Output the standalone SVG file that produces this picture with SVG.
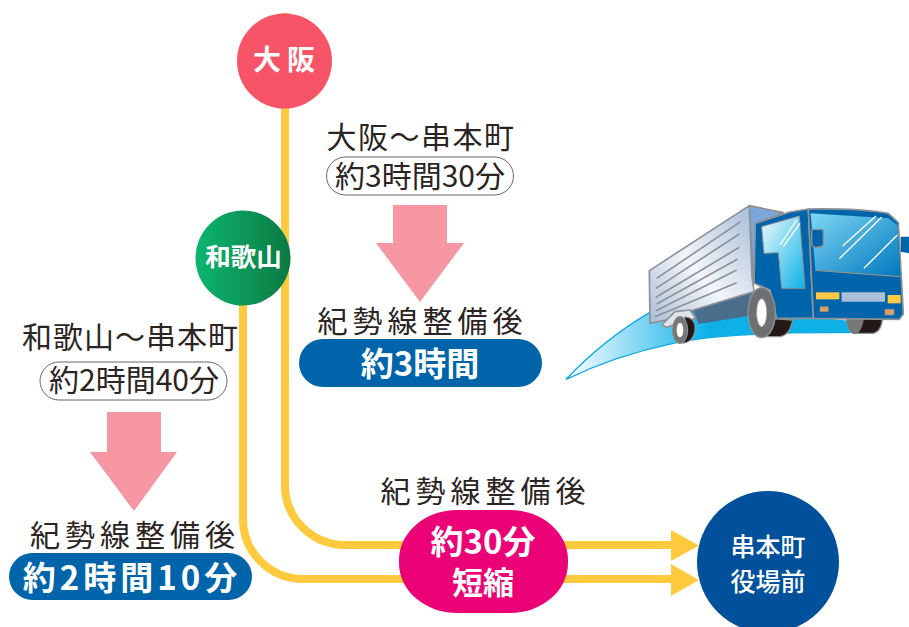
<svg xmlns="http://www.w3.org/2000/svg" width="909" height="627" viewBox="0 0 909 627">
<style>
text{font-family:"Noto Sans CJK JP","Noto Sans",sans-serif;text-anchor:middle}
.d{fill:#2b2422;font-size:30px}
.w{fill:#fff;font-weight:700}
.m{fill:#fff;font-weight:500;font-size:25px}
.r{fill:none;stroke:#ffca3d;stroke-width:8}
.a{fill:#f797a3}
.c{fill:#fff;stroke:#666;stroke-width:1}
.y{fill:#ffca3d}
.t{fill:none;stroke:#8d9296;stroke-width:5}
.g{stroke:#8d9296;stroke-width:5;stroke-linejoin:round}
.s{stroke:#fff;stroke-width:4;fill:none}
</style>
<defs>
<linearGradient id="gw" x1="0" x2="1" y1="0" y2="0"><stop offset="0" stop-color="#0cb56f"/><stop offset="1" stop-color="#0b7a42"/></linearGradient>
<linearGradient id="gs" x1="0" x2="1" y1="0" y2="0"><stop offset="0" stop-color="#fff"/><stop offset=".5" stop-color="#0db1e8"/><stop offset="1" stop-color="#0db1e8"/></linearGradient>
<linearGradient id="gb" x1="0" x2="1" y1="1" y2="0"><stop offset="0" stop-color="#a9bdd6"/><stop offset=".45" stop-color="#f2f5f9"/><stop offset="1" stop-color="#a6bcd8"/></linearGradient>
<linearGradient id="gf" x1="0" x2="1" y1="0" y2="1"><stop offset="0" stop-color="#7fd6f5"/><stop offset="1" stop-color="#0079bd"/></linearGradient>
<linearGradient id="gd" x1="0" x2="1" y1="0" y2="1"><stop offset="0" stop-color="#eef9fd"/><stop offset="1" stop-color="#0cb2e6"/></linearGradient>
</defs>
<g id="connectors">
<path class="r" d="M285 13V485A60 60 0 0 0 345 545H672"/>
<path class="r" d="M243 290V519A60 60 0 0 0 303 579H672"/>
<path class="y" d="M671 530L699 545.500L671 561Z"/>
<path class="y" d="M671 564L699 580L671 596Z"/>
</g>
<g id="osaka"><circle cx="284.500" cy="61" r="47.500" fill="#f85468"/><text class="w" x="287" y="70" font-size="28" letter-spacing="6">大阪</text></g>
<g id="wakayama"><circle cx="243" cy="258" r="47.500" fill="url(#gw)"/><text class="w" x="243.500" y="266" font-size="25.500">和歌山</text></g>
<g id="osaka-time">
<text class="d" x="421" y="148" letter-spacing="1.500">大阪～串本町</text>
<rect class="c" x="326.500" y="157" width="187" height="38" rx="19"/>
<text class="d" x="420" y="187">約3時間30分</text>
<path class="a" d="M393 205H447V243H464L420 302L376 243H393Z"/>
<text class="d" x="422.500" y="332" letter-spacing="5">紀勢線整備後</text>
<rect x="299" y="339" width="243" height="48" rx="24" fill="#0064ab"/>
<text class="w" x="420" y="376" font-size="33">約3時間</text>
</g>
<g id="wakayama-time">
<text class="d" x="130.500" y="348" letter-spacing="1">和歌山～串本町</text>
<rect class="c" x="40" y="362" width="187" height="38" rx="19"/>
<text class="d" x="134" y="391">約2時間40分</text>
<path class="a" d="M107 412H161V452H177L134 511L90 452H107Z"/>
<text class="d" x="135" y="546" letter-spacing="5">紀勢線整備後</text>
<rect x="9" y="553" width="243" height="47" rx="23.500" fill="#0064ab"/>
<text class="w" x="132" y="590" font-size="33" letter-spacing="4">約2時間10分</text>
</g>
<g id="shortened">
<text class="d" x="485.500" y="502" letter-spacing="5">紀勢線整備後</text>
<rect x="399" y="510" width="169" height="103" rx="58" ry="50" fill="#ec0277"/>
<text class="w" x="483" y="554" font-size="33">約30分</text>
<text class="w" x="483" y="594" font-size="31">短縮</text>
</g>
<g id="kushimoto"><circle cx="768" cy="562" r="71" fill="#00509b"/><text class="m" x="768" y="556">串本町</text><text class="m" x="768" y="591">役場前</text></g>
<g id="truck" transform="translate(560 190) scale(.33333)">
<path d="M18 568Q130 450 268 368L570 360L870 395V428Q500 425 340 460Q170 495 18 568Z" fill="url(#gs)" stroke="#12a9e0" stroke-width="4"/>
<path d="M568 47L670 68L590 100L580 280Z" fill="#7ba8d8" class="g"/>
<path d="M400 360L580 300L565 378L415 402Z" fill="#4a6d8c"/>
<path d="M268 242L568 47L576 260L582 305L400 360L310 392L270 400Z" fill="url(#gb)" class="g"/>
<g class="t"><path d="M290 265L542 95M288 295L538 132M288 322L538 172M290 342L532 208M288 362L530 240M285 380L530 278"/></g>
<path d="M305 405L345 365L390 360L408 385L370 395L320 412Z" fill="#dfe5ea" class="g"/>
<path d="M375 380Q408 385 405 420Q400 455 370 460Z" fill="#231815" stroke="#8d9296" stroke-width="3"/>
<ellipse cx="360" cy="420" rx="23" ry="41" fill="#777" stroke="#8d9296" stroke-width="3"/>
<ellipse cx="360" cy="420" rx="10" ry="22" fill="#fff"/>
<path d="M860 380H968Q965 425 940 430H885Q862 430 860 380Z" fill="#231815" stroke="#8d9296" stroke-width="4"/>
<path d="M860 385H912Q905 430 885 432Q862 430 860 385Z" fill="#777"/>
<path d="M582 280L586 100L690 66L745 57L760 385L650 385L630 300Z" fill="#0064ab" class="g"/>
<path d="M745 57Q900 55 985 70L1015 98L1030 372L1018 388L760 385Z" fill="#0064ab" class="g"/>
<path d="M752 70L985 85L1012 105L1020 258L766 240Z" fill="url(#gf)"/>
<path d="M766 241L1022 260" stroke="#8d9296" stroke-width="4"/>
<path d="M605 110L718 78L735 295L665 295L655 188L612 190Z" fill="url(#gd)" stroke="#8d9296" stroke-width="3"/>
<path class="s" d="M660 165L710 90M670 170L720 100"/>
<path class="s" d="M848 168L948 78M838 206L965 82M912 235L1012 135"/>
<path d="M755 118H785Q790 118 790 125V165Q785 172 765 172Q755 170 755 160Z" fill="#0064ab" stroke="#8d9296" stroke-width="4"/>
<path d="M1022 140L1047 140V190L1022 185Z" fill="#0064ab"/>
<path d="M768 307H838V328H768Z" fill="#ffc942"/>
<path d="M845 307H975V335H845Z" fill="#a9c0d8"/>
<path d="M983 315H1022V340H983Z" fill="#ffc942"/>
<path d="M780 350H805V365H780ZM975 358H1002V375H975Z" fill="#e0a060" stroke="#8d9296" stroke-width="2"/>
<path d="M625 385L698 390Q690 435 660 440H610Z" fill="#231815" stroke="#8d9296" stroke-width="4"/>
<ellipse cx="605" cy="368" rx="41" ry="75" fill="#6d6f72" stroke="#8d9296" stroke-width="4"/>
<ellipse cx="605" cy="368" rx="15" ry="42" fill="#fff" stroke="#aaa" stroke-width="2"/>
</g>
</svg>
